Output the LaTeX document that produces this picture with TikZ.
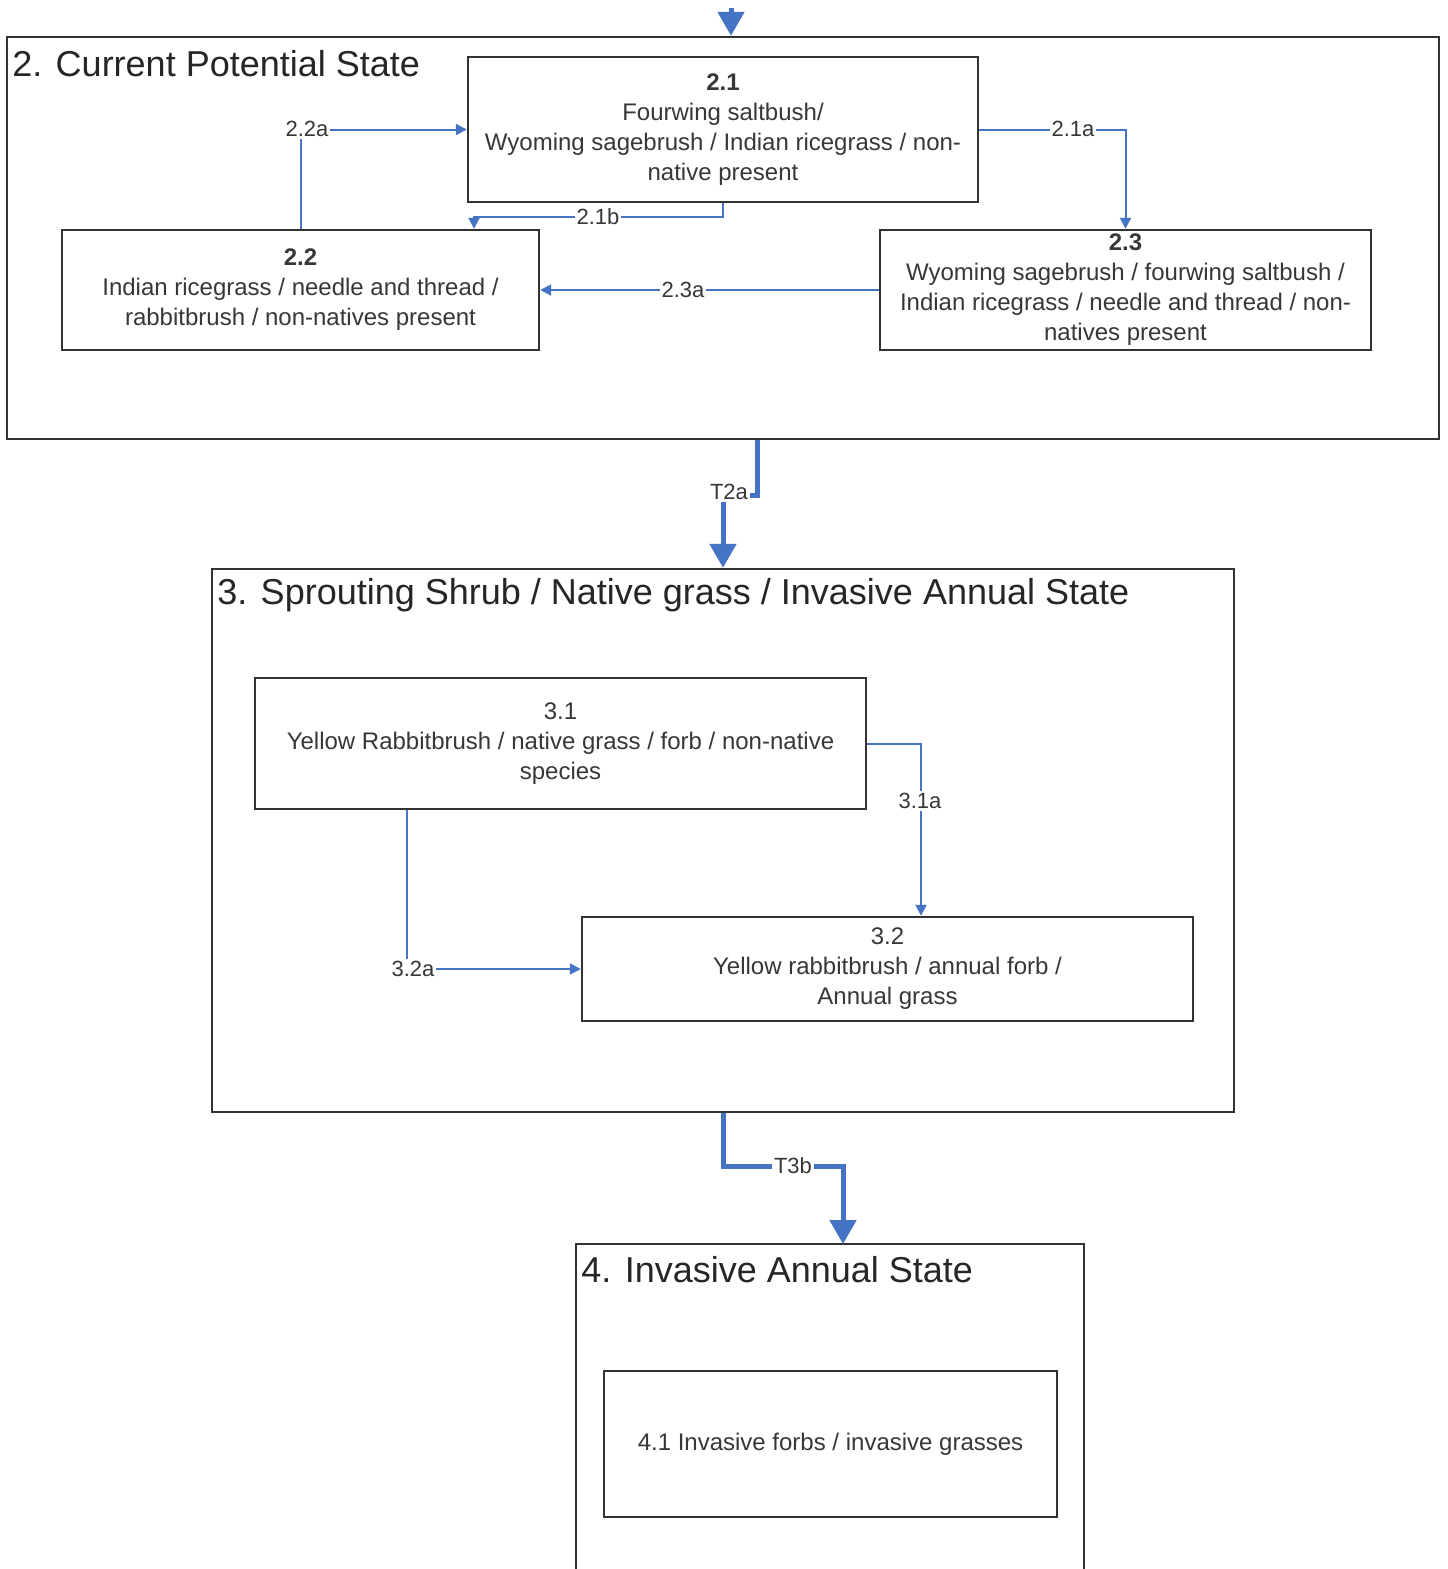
\documentclass[tikz,border=0pt]{standalone}
\usepackage{fontspec}
\setmainfont{Liberation Sans}
\usetikzlibrary{arrows.meta}
\definecolor{conn}{RGB}{70,116,196}
\definecolor{boxline}{RGB}{50,50,50}
\definecolor{txt}{RGB}{55,55,55}
\tikzset{
  statebox/.style={draw=boxline, line width=1.2pt, fill=none, inner sep=0pt},
  phase/.style={draw=boxline, line width=1.2pt, fill=white, align=center, inner sep=0pt,
    text=txt, font=\fontsize{12}{15}\selectfont},
  titletext/.style={anchor=west, inner sep=0pt, text=black!85, font=\fontsize{18}{21}\selectfont},
  thinconn/.style={draw=conn, line width=1pt, -{Triangle[width=5.5pt,length=5.5pt]}},
  thickconn/.style={draw=conn, line width=2.5pt, -{Triangle[width=13pt,length=12pt]}},
  lbl/.style={fill=white, inner sep=1pt, text=txt, font=\fontsize{11}{13}\selectfont},
}
\begin{document}
\begin{tikzpicture}[x=0.5pt, y=-0.5pt]
\useasboundingbox (0,0) rectangle (1447,1569);
\fill[white] (0,0) rectangle (1447,1569);

% state boxes
\node[statebox, minimum width=716pt, minimum height=201pt] (s2) at (723,238) {};
\node[statebox, minimum width=511pt, minimum height=271.5pt] (s3) at (723,840.5) {};
\coordinate (s4nw) at (576,1244);
\coordinate (s4ne) at (1084,1244);
\draw[boxline, line width=1.2pt] (576,1569) -- (s4nw) -- (s4ne) -- (1084,1569);

\node[titletext] (t2) at (12,64) {2. Current Potential State};
\node[titletext] (t3) at (217,595) {3. Sprouting Shrub / Native grass / Invasive Annual State};
\node[titletext] (t4) at (581,1270) {4. Invasive Annual State};

% community phases
\node[phase, minimum width=255pt, minimum height=72.5pt] (p21) at (723,129.5)
  {\textbf{2.1}\\Fourwing saltbush/\\Wyoming sagebrush / Indian ricegrass / non-\\native present};
\node[phase, minimum width=238.5pt, minimum height=60pt] (p22) at (300.5,290)
  {\textbf{2.2}\\Indian ricegrass / needle and thread /\\rabbitbrush / non-natives present};
\node[phase, minimum width=245.5pt, minimum height=60pt] (p23) at (1125.5,290)
  {\textbf{2.3}\\Wyoming sagebrush / fourwing saltbush /\\Indian ricegrass / needle and thread / non-\\natives present};
\node[phase, minimum width=305.5pt, minimum height=65.5pt] (p31) at (560.5,743.5)
  {3.1\\Yellow Rabbitbrush / native grass / forb / non-native\\species};
\node[phase, minimum width=305.5pt, minimum height=52pt] (p32) at (887.5,969)
  {3.2\\Yellow rabbitbrush / annual forb /\\Annual grass};
\node[phase, minimum width=226.5pt, minimum height=73pt] (p41) at (830.5,1444)
  {4.1 Invasive forbs / invasive grasses};

% top incoming arrow
\coordinate (topin) at (731,8);
\draw[thickconn] (topin) -- ([xshift=4pt]s2.north);

% state 2 pathways
\draw[thinconn] (p22.north) |- (p21.west);
\node[lbl] (l22a) at (307,129) {2.2a};
\draw[thinconn] (p21.east) -| (p23.north);
\node[lbl] (l21a) at (1073,129) {2.1a};
\coordinate (c21b) at (474,217);
\draw[thinconn] (p21.south) |- (c21b) -- (c21b |- p22.north);
\node[lbl] (l21b) at (598,217) {2.1b};
\draw[thinconn] (p23.west) -- (p22.east);
\node[lbl] (l23a) at (683,290) {2.3a};

% transition T2a
\coordinate (t2k) at (723,495);
\draw[thickconn] ([xshift=17pt]s2.south) |- (t2k) -- (s3.north);
\node[lbl] (lt2a) at (729,492) {T2a};

% state 3 pathways
\draw[thinconn] (p31.east) -| ([xshift=16.75pt]p32.north);
\node[lbl] (l31a) at (920,801) {3.1a};
\draw[thinconn] ([xshift=-76.75pt]p31.south) |- (p32.west);
\node[lbl] (l32a) at (413,969) {3.2a};

% transition T3b
\coordinate (t3k) at (843,1166);
\draw[thickconn] (s3.south) |- (t3k) -- (t3k |- s4nw);
\node[lbl] (lt3b) at (793,1166) {T3b};
\end{tikzpicture}
\end{document}
